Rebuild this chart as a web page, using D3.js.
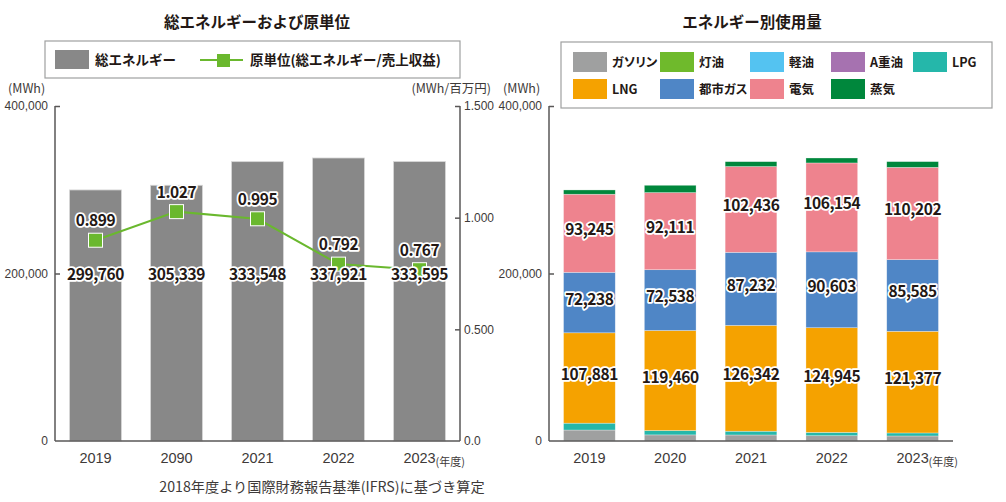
<!DOCTYPE html>
<html>
<head>
<meta charset="utf-8">
<script src="https://cdn.jsdelivr.net/npm/d3@7/dist/d3.min.js"></script>
<style>
  body { margin: 0; background: #fff; }
  svg { font-family: "Noto Sans CJK JP", "Noto Sans", sans-serif; }
  .axis path, .axis line { stroke: #595757; stroke-width: 1.5; }
  .axis text { fill: #3e3a39; font-size: 12px; }
  .halo { font-weight: bold; fill: #231815; stroke: #fff; stroke-width: 3.5; paint-order: stroke; stroke-linejoin: round; text-anchor: middle; letter-spacing: -0.4px; }
  .palt { font-feature-settings: "palt"; }
</style>
</head>
<body>
<svg id="chart" width="1006" height="502"></svg>
<script>
// ---- data ----
var yearsLeft = ["2019", "2090", "2021", "2022", "2023"];
var totalEnergy = [299760, 305339, 333548, 337921, 333595];
var intensity = [0.899, 1.027, 0.995, 0.792, 0.767];

var yearsRight = ["2019", "2020", "2021", "2022", "2023"];
var sourceNames = ["ガソリン", "灯油", "軽油", "A重油", "LPG", "LNG", "都市ガス", "電気", "蒸気"];
var sourceColors = ["#9fa0a0", "#6fba2c", "#54c3f1", "#a672b0", "#25b7aa", "#f5a200", "#4f86c6", "#ee838e", "#00873c"];
var gasoline = [13100, 7300, 7200, 6300, 6000];
var kerosene = [0, 0, 0, 0, 0];
var lightOil = [0, 0, 0, 0, 0];
var heavyOilA = [0, 0, 0, 0, 0];
var lpg = [8200, 5200, 4500, 4000, 3600];
var lng = [107881, 119460, 126342, 124945, 121377];
var cityGas = [72238, 72538, 87232, 90603, 85585];
var electricity = [93245, 92111, 102436, 106154, 110202];
var steam = [5096, 8730, 5838, 5919, 6831];
var labelledSources = ["LNG", "都市ガス", "電気"];

var svg = d3.select("#chart");
var fmt = d3.format(",");

// ---- left chart ----
var xL = d3.scaleBand().domain(yearsLeft).range([55, 460]).paddingInner(0.36).paddingOuter(0.18);
var yL = d3.scaleLinear().domain([0, 400000]).range([441, 106]);
var yI = d3.scaleLinear().domain([0, 1.5]).range([441, 106]);

svg.append("text").attr("x", 257).attr("y", 28).attr("text-anchor", "middle")
  .style("font-size", "15.5px").style("font-weight", "bold").style("fill", "#231815")
  .text("総エネルギーおよび原単位");

// legend
svg.append("rect").attr("x", 45).attr("y", 41).attr("width", 415).attr("height", 37)
  .style("fill", "none").style("stroke", "#9fa0a0").style("stroke-width", 1.2);
svg.append("rect").attr("x", 55).attr("y", 50).attr("width", 34).attr("height", 19).style("fill", "#888888");
svg.append("text").attr("x", 95).attr("y", 65).style("font-size", "13.5px").style("font-weight", "bold")
  .style("fill", "#231815").text("総エネルギー");
svg.append("line").attr("x1", 200).attr("x2", 243).attr("y1", 60).attr("y2", 60)
  .style("stroke", "#6ab82e").style("stroke-width", 2);
svg.append("rect").attr("x", 217).attr("y", 54).attr("width", 13).attr("height", 13).style("fill", "#6ab82e");
svg.append("text").attr("x", 250).attr("y", 65).style("font-size", "13.5px").style("font-weight", "bold")
  .style("fill", "#231815").text("原単位(総エネルギー/売上収益)");

// unit labels
svg.append("text").attr("x", 8).attr("y", 93).style("font-size", "12.5px").style("fill", "#3e3a39").text("(MWh)");
svg.append("text").attr("x", 491).attr("y", 93).attr("text-anchor", "end").style("font-size", "12.5px")
  .style("fill", "#3e3a39").text("(MWh/百万円)");

// bars
svg.selectAll(".barL").data(totalEnergy).enter().append("rect")
  .attr("class", "barL")
  .attr("x", function(d, i) { return xL(yearsLeft[i]); })
  .attr("width", xL.bandwidth())
  .attr("y", function(d) { return yL(d); })
  .attr("height", function(d) { return yL(0) - yL(d); })
  .style("fill", "#888888").style("stroke", "#d6d6d6").style("stroke-width", 0.8);

// axes
svg.append("g").attr("class", "axis").attr("transform", "translate(55,0)")
  .call(d3.axisLeft(yL).tickValues([0, 200000, 400000]).tickSize(-5).tickPadding(7).tickFormat(fmt))
  .call(function(g) { g.select(".domain").attr("d", "M0,106V441"); g.selectAll(".tick line").filter(function(d) { return d === 0; }).remove(); });
svg.append("g").attr("class", "axis").attr("transform", "translate(460,0)")
  .call(d3.axisRight(yI).tickValues([0, 0.5, 1.0, 1.5]).tickSize(-5).tickPadding(4)
    .tickFormat(function(d) { return d === 0 ? "0.0" : d3.format(".3f")(d); }))
  .call(function(g) { g.select(".domain").attr("d", "M0,106V441"); g.selectAll(".tick line").filter(function(d) { return d === 0; }).remove(); });
var xAxisL = svg.append("g").attr("class", "axis").attr("transform", "translate(0,441)")
  .call(d3.axisBottom(xL).tickSize(0).tickPadding(12));
xAxisL.select(".domain").attr("d", "M55,0H460");
xAxisL.selectAll(".tick text").style("font-size", "14.5px");
svg.append("text").attr("x", xL("2023") + xL.bandwidth() / 2 + 16).attr("y", 466)
  .style("font-size", "11px").style("fill", "#3e3a39").text("(年度)");

// line
var line = d3.line()
  .x(function(d, i) { return xL(yearsLeft[i]) + xL.bandwidth() / 2; })
  .y(function(d) { return yI(d); });
svg.append("path").datum(intensity).attr("d", line)
  .style("fill", "none").style("stroke", "#6ab82e").style("stroke-width", 2);
svg.selectAll(".mark").data(intensity).enter().append("rect")
  .attr("class", "mark")
  .attr("x", function(d, i) { return xL(yearsLeft[i]) + xL.bandwidth() / 2 - 7; })
  .attr("y", function(d) { return yI(d) - 7; })
  .attr("width", 14).attr("height", 14)
  .style("fill", "#6ab82e").style("stroke", "#fff").style("stroke-width", 1);

// value labels
svg.selectAll(".lblTot").data(totalEnergy).enter().append("text")
  .attr("class", "halo")
  .attr("x", function(d, i) { return xL(yearsLeft[i]) + xL.bandwidth() / 2; })
  .attr("y", yL(200000) + 6)
  .style("font-size", "15.5px")
  .text(function(d) { return fmt(d); });
svg.selectAll(".lblInt").data(intensity).enter().append("text")
  .attr("class", "halo")
  .attr("x", function(d, i) { return xL(yearsLeft[i]) + xL.bandwidth() / 2; })
  .attr("y", function(d) { return yI(d) - 14; })
  .style("font-size", "15.5px")
  .text(function(d) { return d3.format(".3f")(d); });

svg.append("text").attr("x", 322).attr("y", 492).attr("text-anchor", "middle")
  .style("font-size", "14.2px").style("fill", "#3e3a39")
  .text("2018年度より国際財務報告基準(IFRS)に基づき算定");

// ---- right chart ----
var series = [gasoline, kerosene, lightOil, heavyOilA, lpg, lng, cityGas, electricity, steam];
var rows = yearsRight.map(function(y, i) {
  var r = { year: y };
  sourceNames.forEach(function(k, j) { r[k] = series[j][i]; });
  return r;
});
var stacked = d3.stack().keys(sourceNames)(rows);
var color = d3.scaleOrdinal().domain(sourceNames).range(sourceColors);

var xS = d3.scaleBand().domain(yearsRight).range([549, 953]).paddingInner(0.36).paddingOuter(0.18);
var yS = d3.scaleLinear().domain([0, 400000]).range([441, 106]);

svg.append("text").attr("x", 752).attr("y", 28).attr("text-anchor", "middle")
  .style("font-size", "15.5px").style("font-weight", "bold").style("fill", "#231815")
  .text("エネルギー別使用量");

svg.append("text").attr("x", 503).attr("y", 93).style("font-size", "12.5px").style("fill", "#3e3a39").text("(MWh)");

svg.append("g").selectAll("g").data(stacked).enter().append("g")
  .style("fill", function(d) { return color(d.key); })
  .selectAll("rect").data(function(d) { return d; }).enter().append("rect")
  .attr("x", function(d) { return xS(d.data.year); })
  .attr("width", xS.bandwidth())
  .attr("y", function(d) { return yS(d[1]); })
  .attr("height", function(d) { return yS(d[0]) - yS(d[1]); })
  .style("stroke", "#fff").style("stroke-opacity", 0.5).style("stroke-width", 0.6);

svg.append("g").attr("class", "axis").attr("transform", "translate(549,0)")
  .call(d3.axisLeft(yS).tickValues([0, 200000, 400000]).tickSize(-5).tickPadding(7).tickFormat(fmt))
  .call(function(g) { g.select(".domain").attr("d", "M0,106V441"); g.selectAll(".tick line").filter(function(d) { return d === 0; }).remove(); });
var xAxisR = svg.append("g").attr("class", "axis").attr("transform", "translate(0,441)")
  .call(d3.axisBottom(xS).tickSize(0).tickPadding(12));
xAxisR.select(".domain").attr("d", "M549,0H953");
xAxisR.selectAll(".tick text").style("font-size", "14.5px");
svg.append("text").attr("x", xS("2023") + xS.bandwidth() / 2 + 16).attr("y", 466)
  .style("font-size", "11px").style("fill", "#3e3a39").text("(年度)");

stacked.filter(function(s) { return labelledSources.indexOf(s.key) >= 0; }).forEach(function(s) {
  svg.append("g").selectAll("text").data(s).enter().append("text")
    .attr("class", "halo")
    .attr("x", function(d) { return xS(d.data.year) + xS.bandwidth() / 2; })
    .attr("y", function(d) { return (yS(d[0]) + yS(d[1])) / 2 + 2; })
    .style("font-size", "15.5px")
    .text(function(d) { return fmt(d[1] - d[0]); });
});

// legend right
svg.append("rect").attr("x", 561).attr("y", 42).attr("width", 431).attr("height", 66)
  .style("fill", "#fff").style("stroke", "#9fa0a0").style("stroke-width", 1.2);
var legX = [573, 660, 750, 831, 913];
var leg = svg.append("g").selectAll("g").data(sourceNames).enter().append("g")
  .attr("transform", function(d, i) { return "translate(" + legX[i % 5] + "," + (52 + Math.floor(i / 5) * 27) + ")"; });
leg.append("rect").attr("width", 34).attr("height", 20).style("fill", function(d) { return color(d); });
leg.append("text").attr("class", "palt").attr("x", 39).attr("y", 15).style("font-size", "12.5px").style("font-weight", "bold")
  .style("fill", "#231815").text(function(d) { return d; });
</script>
</body>
</html>
